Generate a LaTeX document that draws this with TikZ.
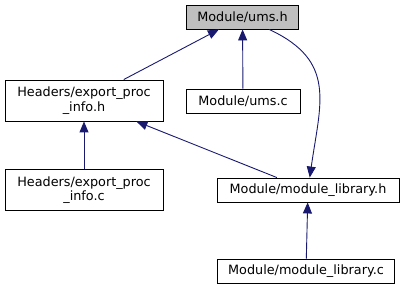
\documentclass[tikz,border=0pt]{standalone}
\usepackage{fontspec}
\setmainfont{DejaVu Sans}
\usetikzlibrary{graphs,arrows.meta}
\definecolor{linkblue}{HTML}{191970}
\tikzset{
    file/.style ={
        shape=rectangle,
        draw=black,
        fill=white,
        line width=0.9pt,
        inner sep=0pt,
        minimum height=24pt,
        align=center,
        font=\fontsize{12.8}{14.5}\selectfont
    },
    curfile/.style ={
        file,
        fill=black!25
    }
}

\begin{document}
\begin{tikzpicture}[x=1pt,y=-1pt,>={Triangle[length=11pt,width=9pt]}]
    \useasboundingbox (0,0) rectangle (405,291);
    \node[curfile, minimum width=112pt] (umsh) at(242.5,17) {Module/ums.h};
    \node[file, minimum width=158pt, minimum height=41pt] (exph) at(84,100.5) {Headers/export\_proc\\\_info.h};
    \node[file, minimum width=114pt] (umsc) at(243,101) {Module/ums.c};
    \node[file, minimum width=158pt, minimum height=41pt] (expc) at(84,190) {Headers/export\_proc\\\_info.c};
    \node[file, minimum width=182pt] (modh) at(308,190) {Module/module\_library.h};
    \node[file, minimum width=177pt] (modc) at(306,271) {Module/module\_library.c};
    \graph[edges={draw=linkblue, line width=0.9pt}]{
        (umsh) <- (exph) <- (expc);
        (umsh) <- (umsc);
        (exph) <- (modh) <- (modc);
        (umsh) ->[out=-25, in=82, looseness=1.25] (modh);
    };
\end{tikzpicture}
\end{document}
